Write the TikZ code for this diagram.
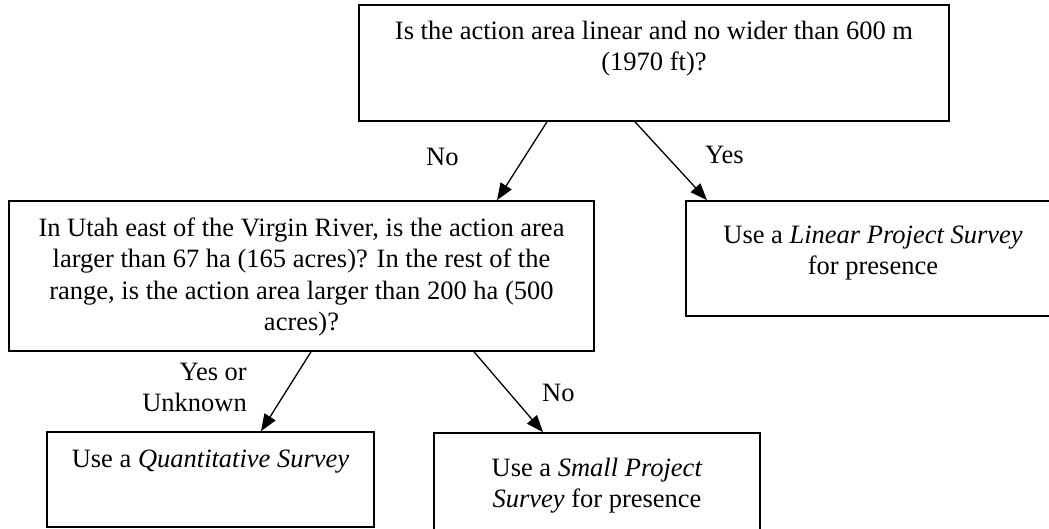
\documentclass[tikz,border=0pt]{standalone}
\usepackage{fontspec}
\setmainfont{Liberation Serif}
\usetikzlibrary{arrows.meta}
\newcommand\bxt[4]{\parbox[t][#2pt][t]{#1pt}{\vspace*{#3pt}\centering\strut #4}}
\begin{document}
\begin{tikzpicture}[x=1pt,y=-1pt,
  every node/.style={font=\fontsize{26.5}{31.5}\selectfont, inner sep=0pt},
  qbox/.style={draw, line width=1.6pt},
  conn/.style={line width=1.3pt, -{Triangle[length=17pt,width=13pt]}}]
\useasboundingbox (0,0) rectangle (1049,528);
\node[qbox] (q1) at (654,63) {\bxt{590}{116}{12}{Is the action area linear and no wider than 600 m\\(1970 ft)?}};
\node[qbox] (q2) at (301.5,276) {\bxt{585}{150}{13}{In Utah east of the Virgin River, is the action area\\larger than 67 ha (165 acres)? In the rest of the\\range, is the action area larger than 200 ha (500\\acres)?}};
\node[qbox] (r1) at (873,258.5) {\bxt{374}{115}{20}{Use a \textit{Linear Project Survey}\\for presence}};
\node[qbox] (r2) at (210.5,479.5) {\bxt{327}{95}{13}{Use a \textit{Quantitative Survey}}};
\node[qbox] (r3) at (597,489) {\bxt{326}{112}{21}{Use a \textit{Small Project}\\\textit{Survey} for presence}};
\draw[conn] ([xshift=-107pt]q1.south) -- ([xshift=195.5pt]q2.north);
\draw[conn] ([xshift=-19pt]q1.south) -- ([xshift=-166pt]r1.north);
\draw[conn] ([xshift=9.5pt]q2.south) -- ([xshift=50.5pt]r2.north);
\draw[conn] ([xshift=172.5pt]q2.south) -- ([xshift=-54pt]r3.north);
\node[anchor=base west] (n1) at (426,165) {No};
\node[anchor=base west] (y1) at (705,163) {Yes};
\node[anchor=north east, align=right] (y2) at (247,358) {\strut Yes or\\\strut Unknown};
\node[anchor=base west] (n2) at (542,401) {No};
\end{tikzpicture}
\end{document}
